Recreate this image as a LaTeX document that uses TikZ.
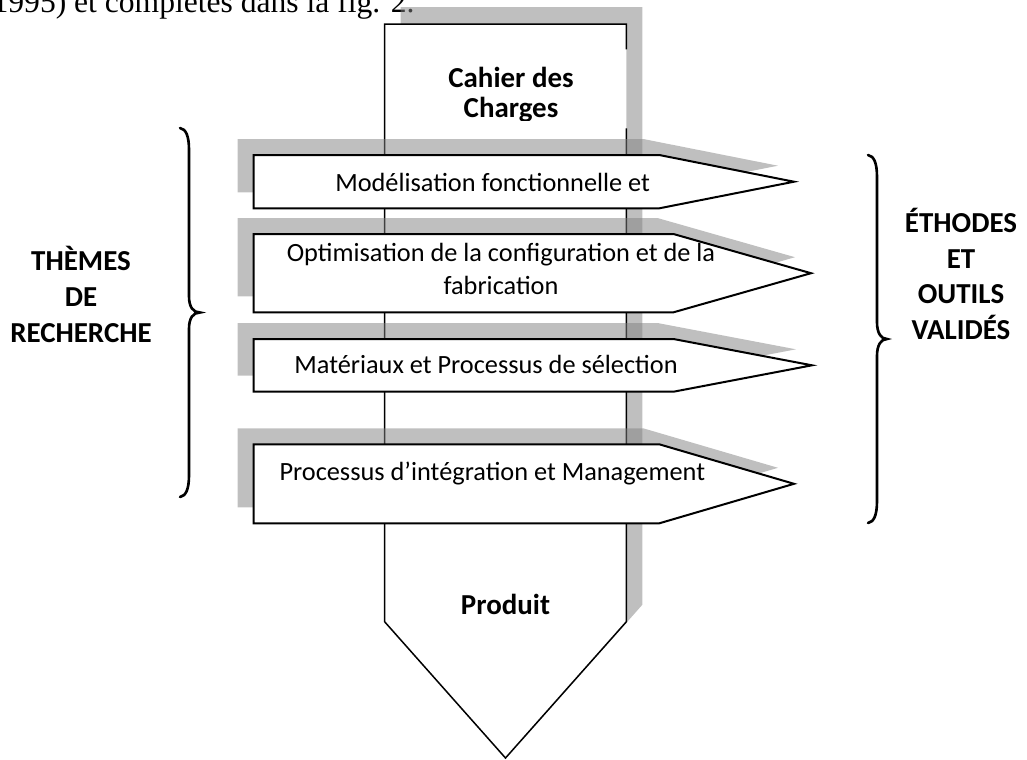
\documentclass[tikz,border=0pt]{standalone}
\usepackage{fontspec}
\setmainfont{Carlito}
\newfontfamily\timesfont{Liberation Serif}
\begin{document}
\begin{tikzpicture}[x=0.38pt, y=-0.38pt,
  shadow/.style={fill=black!50, fill opacity=0.5, draw=none},
  boxline/.style={draw=black, line width=0.57pt, line join=miter},
  banner/.style={fill=white, draw=black, line width=0.76pt, line join=miter},
  bodytext/.style={font=\fontsize{10}{12.5}\selectfont, inner sep=0pt},
  boldlabel/.style={font=\bfseries\fontsize{11}{13.6}\selectfont, align=center, inner sep=0pt},
  bracket/.style={draw=black, line width=1pt, line cap=round}
]
\useasboundingbox (0,0) rectangle (1027,759);

% running text line above the figure
\node[font=\timesfont\fontsize{12}{14}\selectfont, anchor=base east, inner sep=0pt]
  (caption) at (415,12) {1995) et complétés dans la fig. 2.};

% central body: specification box turning into the product arrow
\fill[shadow, shift={(16,-17)}] (384.6,24) -- (626.4,24) -- (626.4,621.7) -- (505.5,758) -- (384.6,621.7) -- cycle;
\fill[white] (384.6,24) -- (626.4,24) -- (626.4,621.7) -- (505.5,758) -- (384.6,621.7) -- cycle;
\draw[boxline] (626.4,49.3) -- (626.4,24) -- (384.6,24) -- (384.6,621.7) -- (505.5,758) -- (626.4,621.7) -- (626.4,128.3);

\begin{scope}
  \clip (384.6,40) rectangle (626.4,120);
  \node[boldlabel, font=\bfseries\fontsize{11}{11.4}\selectfont] (cahier) at (511,95) {Cahier des\\Charges};
\end{scope}

% research themes as arrow banners
\fill[shadow, shift={(-16,-16)}] (253.7,155) -- (659.3,155) -- (794,181.7) -- (659.3,208.3) -- (253.7,208.3) -- cycle;
\path[banner] (253.7,155) -- (659.3,155) -- (794,181.7) -- (659.3,208.3) -- (253.7,208.3) -- cycle;
\node[bodytext, anchor=base] (t1) at (492.7,191.5) {Modélisation fonctionnelle et};

\fill[shadow, shift={(-16,-16)}] (253.7,234) -- (673.5,234) -- (811,273.2) -- (673.5,312.3) -- (253.7,312.3) -- cycle;
\path[banner] (253.7,234) -- (673.5,234) -- (811,273.2) -- (673.5,312.3) -- (253.7,312.3) -- cycle;
\node[bodytext, align=center, font=\fontsize{10}{12.5}\selectfont] (t2) at (501,269) {Optimisation de la configuration et de la\\fabrication};

\fill[shadow, shift={(-16,-16)}] (253.7,339) -- (673.5,339) -- (812,365.3) -- (673.5,391.7) -- (253.7,391.7) -- cycle;
\path[banner] (253.7,339) -- (673.5,339) -- (812,365.3) -- (673.5,391.7) -- (253.7,391.7) -- cycle;
\node[bodytext, anchor=base] (t3) at (486,373) {Matériaux et Processus de sélection};

\fill[shadow, shift={(-16,-16)}] (253.7,444.3) -- (659.3,444.3) -- (794,483.8) -- (659.3,523.3) -- (253.7,523.3) -- cycle;
\path[banner] (253.7,444.3) -- (659.3,444.3) -- (794,483.8) -- (659.3,523.3) -- (253.7,523.3) -- cycle;
\node[bodytext, anchor=base] (t4) at (492.3,480) {Processus d’intégration et Management};

\node[boldlabel, anchor=base] (produit) at (505.5,614) {Produit};

% braces and their labels
\draw[bracket] (180,128) .. controls (186,129) and (189,136) .. (189,150) -- (189,296)
  .. controls (189,307) and (193,312.5) .. (200,312.5)
  .. controls (193,312.5) and (189,318) .. (189,329) -- (189,475)
  .. controls (189,489) and (186,496) .. (180,497);
\draw[bracket] (868,155) .. controls (874,156) and (877,163) .. (877,177) -- (877,322)
  .. controls (877,333) and (881,339) .. (887,339)
  .. controls (881,339) and (877,345) .. (877,356) -- (877,501)
  .. controls (877,515) and (874,522) .. (868,523);

\node[boldlabel] (themes) at (81,294.5) {THÈMES\\DE\\RECHERCHE};
\node[boldlabel] (methodes) at (961,274) {ÉTHODES\\ET\\OUTILS\\VALIDÉS};
\end{tikzpicture}
\end{document}
